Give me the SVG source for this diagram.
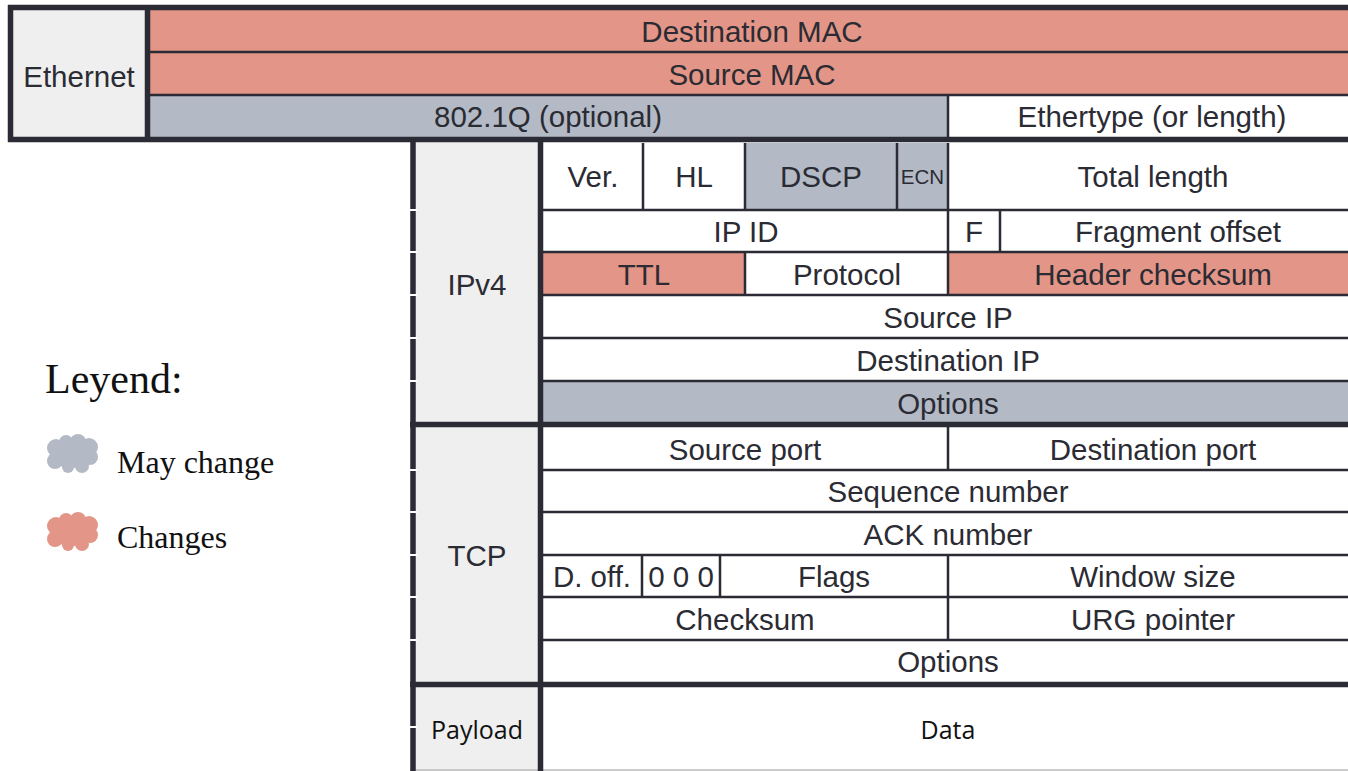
<svg xmlns="http://www.w3.org/2000/svg" width="1348" height="771" viewBox="0 0 1348 771">
<style>
.s{fill:#e39687}
.g{fill:#b3bac5}
.w{fill:#ffffff}
.l{fill:#eeefee}
.t{font-family:"Liberation Sans",Arial,sans-serif;font-size:29.5px;fill:#2b2b33;text-anchor:middle}
.e{font-family:"Liberation Sans",Arial,sans-serif;font-size:20.5px;fill:#2b2b33;text-anchor:middle}
.c{font-family:"Open Sans","Noto Sans",sans-serif;font-size:25px;fill:#111;text-anchor:middle}
.lg{font-family:"Liberation Serif","Times New Roman",serif;fill:#111}
.thin{stroke:#2b2b36;stroke-width:2.5;fill:none}
.thick{stroke:#2b2b36;stroke-width:5.5;fill:none}
.gap{stroke:#ffffff;stroke-width:2;fill:none}
</style>
<defs>
<g id="cloud">
<ellipse cx="72" cy="454" rx="22" ry="14"/>
<circle cx="56" cy="448" r="9"/>
<circle cx="66" cy="442" r="7"/>
<circle cx="78" cy="442" r="8"/>
<circle cx="89" cy="447" r="9"/>
<circle cx="90" cy="457" r="8"/>
<circle cx="82" cy="466" r="7"/>
<circle cx="68" cy="467" r="6"/>
<circle cx="55" cy="461" r="8"/>
</g>
</defs>
<rect x="0" y="0" width="1348" height="771" fill="#ffffff"/>

<!-- Ethernet -->
<g id="eth-label"><rect class="l" x="10" y="7" width="138" height="133"/><text class="t" x="79" y="86.5">Ethernet</text></g>
<g id="dst-mac"><rect class="s" x="148" y="10" width="1200" height="42"/><text class="t" x="752" y="42">Destination MAC</text></g>
<g id="src-mac"><rect class="s" x="148" y="52" width="1200" height="43"/><text class="t" x="752" y="84.5">Source MAC</text></g>
<g id="vlan"><rect class="g" x="148" y="95" width="800" height="42"/><text class="t" x="548" y="127">802.1Q (optional)</text></g>
<g id="ethertype"><rect class="w" x="948" y="95" width="400" height="42"/><text class="t" x="1152" y="127">Ethertype (or length)</text></g>

<!-- IPv4 -->
<g id="ipv4-label"><rect class="l" x="413" y="140" width="128" height="285"/><text class="t" x="477" y="294.5">IPv4</text></g>
<g id="ver"><rect class="w" x="543" y="143" width="100" height="67"/><text class="t" x="593" y="187">Ver.</text></g>
<g id="hl"><rect class="w" x="643" y="143" width="102" height="67"/><text class="t" x="694" y="187">HL</text></g>
<g id="dscp"><rect class="g" x="745" y="143" width="152" height="67"/><text class="t" x="821" y="187">DSCP</text></g>
<g id="ecn"><rect class="g" x="897" y="143" width="51" height="67"/><text class="e" x="922.5" y="184">ECN</text></g>
<g id="total-length"><rect class="w" x="948" y="143" width="400" height="67"/><text class="t" x="1153" y="187">Total length</text></g>
<g id="ip-id"><rect class="w" x="543" y="210" width="405" height="42"/><text class="t" x="746" y="241.5">IP ID</text></g>
<g id="flags-f"><rect class="w" x="948" y="210" width="52" height="42"/><text class="t" x="974" y="241.5">F</text></g>
<g id="frag-offset"><rect class="w" x="1000" y="210" width="348" height="42"/><text class="t" x="1178" y="241.5">Fragment offset</text></g>
<g id="ttl"><rect class="s" x="543" y="252" width="202" height="43"/><text class="t" x="644" y="284.5">TTL</text></g>
<g id="protocol"><rect class="w" x="745" y="252" width="203" height="43"/><text class="t" x="847" y="284.5">Protocol</text></g>
<g id="hdr-checksum"><rect class="s" x="948" y="252" width="400" height="43"/><text class="t" x="1153" y="284.5">Header checksum</text></g>
<g id="src-ip"><rect class="w" x="543" y="295" width="805" height="43"/><text class="t" x="948" y="327.5">Source IP</text></g>
<g id="dst-ip"><rect class="w" x="543" y="338" width="805" height="43"/><text class="t" x="948" y="370.5">Destination IP</text></g>
<g id="ip-options"><rect class="g" x="543" y="381" width="805" height="43"/><text class="t" x="948" y="413.5">Options</text></g>

<!-- TCP -->
<g id="tcp-label"><rect class="l" x="413" y="425" width="128" height="260"/><text class="t" x="477" y="565.5">TCP</text></g>
<g id="src-port"><rect class="w" x="543" y="427" width="405" height="43"/><text class="t" x="745" y="459.5">Source port</text></g>
<g id="dst-port"><rect class="w" x="948" y="427" width="400" height="43"/><text class="t" x="1153" y="459.5">Destination port</text></g>
<g id="seq"><rect class="w" x="543" y="470" width="805" height="42"/><text class="t" x="948" y="502">Sequence number</text></g>
<g id="ack"><rect class="w" x="543" y="512" width="805" height="43"/><text class="t" x="948" y="544.5">ACK number</text></g>
<g id="doff"><rect class="w" x="543" y="555" width="99" height="42"/><text class="t" x="592" y="587">D. off.</text></g>
<g id="reserved"><rect class="w" x="642" y="555" width="78" height="42"/><text class="t" x="681" y="587">0 0 0</text></g>
<g id="tcp-flags"><rect class="w" x="720" y="555" width="228" height="42"/><text class="t" x="834" y="587">Flags</text></g>
<g id="window"><rect class="w" x="948" y="555" width="400" height="42"/><text class="t" x="1153" y="587">Window size</text></g>
<g id="checksum"><rect class="w" x="543" y="597" width="405" height="43"/><text class="t" x="745" y="629.5">Checksum</text></g>
<g id="urg"><rect class="w" x="948" y="597" width="400" height="43"/><text class="t" x="1153" y="629.5">URG pointer</text></g>
<g id="tcp-options"><rect class="w" x="543" y="640" width="805" height="42"/><text class="t" x="948" y="672">Options</text></g>

<!-- Payload -->
<g id="payload-label"><rect class="l" x="413" y="685" width="128" height="86"/><text class="c" x="477" y="739">Payload</text></g>
<g id="data"><rect class="w" x="543" y="687" width="805" height="83"/><text class="c" x="948" y="739">Data</text></g>

<!-- grid lines -->
<g id="lines">
<path class="thin" d="M148 52H1348M148 95H1348M948 95V137"/>
<path class="thin" d="M543 210H1348M543 252H1348M543 295H1348M543 338H1348M543 381H1348"/>
<path class="thin" d="M643 143V210M745 143V210M897 143V210M948 143V252M1000 210V252M745 252V295M948 252V295"/>
<path class="thin" d="M543 470H1348M543 512H1348M543 555H1348M543 597H1348M543 640H1348"/>
<path class="thin" d="M948 427V470M642 555V597M720 555V597M948 555V640"/>
<path stroke="#bbbbbb" stroke-width="1.5" fill="none" d="M410 770H1348"/>
<path class="thick" d="M8 7.5H1348M10.5 5V142M147.5 5V142M8 139.5H1348"/>
<path class="thick" d="M413 140V771M540.5 140V771M410 424.5H1348M410 684.5H1348"/>
<path class="gap" d="M409 210H417M409 252H417M409 295H417M409 338H417M409 381H417M409 470H417M409 512H417M409 555H417M409 597H417M409 640H417M409 727H417"/>
</g>

<!-- Legend -->
<g id="legend">
<text class="lg" x="45" y="393" font-size="42">Leyend:</text>
<use href="#cloud" fill="#b3bac5"/>
<text class="lg" x="117" y="473" font-size="32">May change</text>
<use href="#cloud" fill="#e39687" transform="translate(0,78)"/>
<text class="lg" x="117" y="548" font-size="32">Changes</text>
</g>
</svg>
